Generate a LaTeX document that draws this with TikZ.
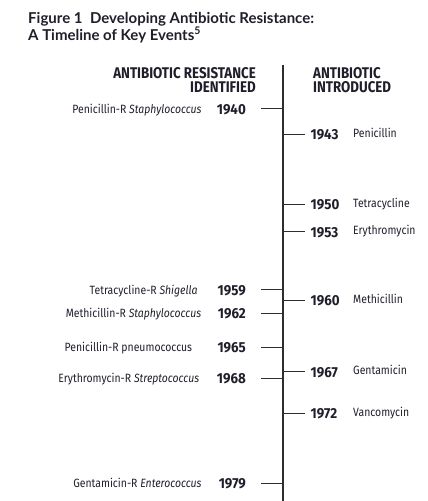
\documentclass[tikz,border=0pt]{standalone}
\usepackage{fontspec}
\setmainfont{Fira Sans}
\newfontfamily\titlefont{Lato}
\newfontfamily\yearfont[FakeStretch=0.92]{Fira Sans}
\newfontfamily\narrowfont[FakeStretch=0.87]{Fira Sans}
\newfontfamily\headfont[FakeStretch=0.86]{Fira Sans}
\usetikzlibrary{positioning}
\definecolor{inkdark}{RGB}{32,30,42}
\definecolor{rulegray}{RGB}{45,45,50}

\begin{document}
\begin{tikzpicture}[x=1pt,y=-1pt,
  every node/.style={text=inkdark,inner sep=0pt},
  yearlbl/.style={font=\yearfont\bfseries\fontsize{14.5}{15}\selectfont},
  eventlbl/.style={font=\narrowfont\fontsize{12}{13}\selectfont},
  headlbl/.style={font=\headfont\bfseries\fontsize{15.5}{14}\selectfont},
  tickline/.style={draw=rulegray,line width=0.9pt}
]
\useasboundingbox (0,0) rectangle (428,501);
% title
\node[font=\titlefont\bfseries\fontsize{15}{17}\selectfont,anchor=base west] (title1) at (28,23)
  {Figure 1\enspace Developing Antibiotic Resistance:};
\node[font=\titlefont\bfseries\fontsize{15}{17}\selectfont,anchor=base west] (title2) at (28,40)
  {A Timeline of Key Events\textsuperscript{5}};
% column heads
\node[headlbl,anchor=base east,align=right] (headL) at (256,92.5) {ANTIBIOTIC RESISTANCE\\IDENTIFIED};
\node[headlbl,anchor=base west,align=left] (headR) at (313,92.5) {ANTIBIOTIC\\INTRODUCED};
% time axis
\coordinate (axtop) at (283,65);
\coordinate (axbot) at (283,501);
\draw[rulegray,line width=1.2pt] (axtop) -- (axbot);
% resistance identified (left)
\foreach \yr/\lbl/\lx/\yy in {
  1940/{Penicillin-R \textit{Staphylococcus}}/201.7/108.7,
  1959/{Tetracycline-R \textit{Shigella}}/197.7/289.5,
  1962/{Methicillin-R \textit{Staphylococcus}}/201.3/313.3,
  1965/{Penicillin-R pneumococcus}/192.3/347.3,
  1968/{Erythromycin-R \textit{Streptococcus}}/199.3/378.3,
  1979/{Gentamicin-R \textit{Enterococcus}}/201.7/483.3}{
  \node[yearlbl,anchor=base east] (yL\yr) at (246,\yy+5.5) {\yr};
  \node[eventlbl,anchor=base east] (eL\yr) at (\lx,\yy+4.5) {\lbl};
  \coordinate (tL\yr) at (261,\yy);
  \coordinate (aL\yr) at (283,\yy);
  \draw[tickline] (tL\yr) -- (aL\yr);
}
% antibiotic introduced (right)
\foreach \yr/\lbl/\yy in {
  1943/Penicillin/134,
  1950/Tetracycline/204.3,
  1953/Erythromycin/231.7,
  1960/Methicillin/300,
  1967/Gentamicin/371.7,
  1972/Vancomycin/413.3}{
  \node[yearlbl,anchor=base west] (yR\yr) at (310.5,\yy+5.5) {\yr};
  \node[eventlbl,anchor=base west] (eR\yr) at (353,\yy+3) {\lbl};
  \coordinate (aR\yr) at (283,\yy);
  \coordinate (tR\yr) at (305,\yy);
  \draw[tickline] (aR\yr) -- (tR\yr);
}
\end{tikzpicture}
\end{document}
